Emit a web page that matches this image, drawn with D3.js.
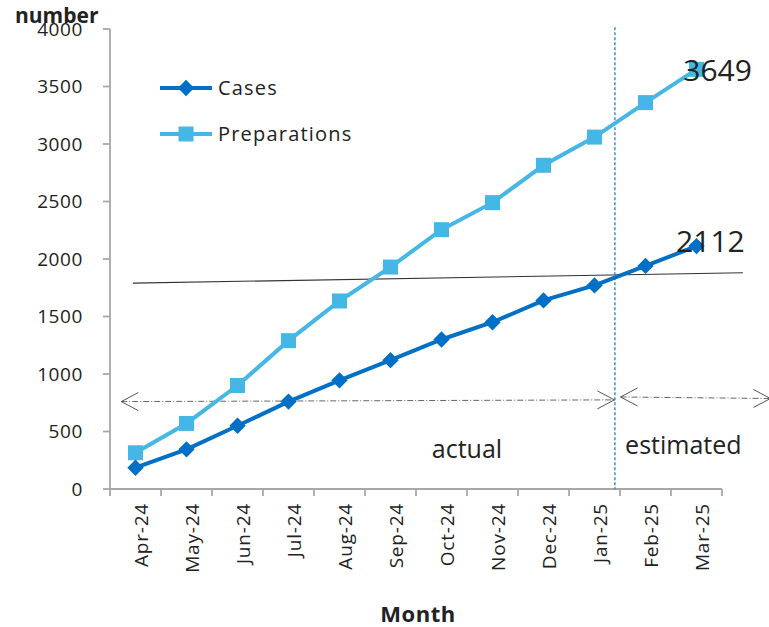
<!DOCTYPE html>
<html>
<head>
<meta charset="utf-8">
<script src="https://cdn.jsdelivr.net/npm/d3@7"></script>
<style>
    body { margin: 0; background: #fff; }
    text { font-family: "Open Sans", sans-serif; fill: #222; }
</style>
</head>
<body>
<div id="chart"></div>
<script>
// values
const months = ["Apr-24", "May-24", "Jun-24", "Jul-24", "Aug-24", "Sep-24",
                "Oct-24", "Nov-24", "Dec-24", "Jan-25", "Feb-25", "Mar-25"];
const cases = [185, 345, 550, 760, 945, 1120, 1300, 1450, 1640, 1770, 1940, 2112];
const preparations = [315, 570, 900, 1290, 1635, 1930, 2255, 2490, 2815, 3060, 3360, 3649];
const y_ticks = [0, 500, 1000, 1500, 2000, 2500, 3000, 3500, 4000];
const series_names = ["Cases", "Preparations"];
const end_labels = ["2112", "3649"];

const width = 769, height = 627;
const margin = {top: 29, right: 47, bottom: 138, left: 110};
const plot_w = width - margin.left - margin.right;
const plot_h = height - margin.top - margin.bottom;

const c_cases = "#0070c6";
const c_prep = "#45b7e6";
const axis_col = "#a8a8a8";

const svg = d3.select("#chart").append("svg")
    .attr("width", width)
    .attr("height", height);

const g = svg.append("g")
    .attr("transform", "translate(" + margin.left + "," + margin.top + ")");

const x = d3.scaleBand().domain(months).range([0, plot_w]).padding(0);
const y = d3.scaleLinear().domain([0, 4000]).range([plot_h, 0]);

// position in category units (0 = first month centre), for annotations
const xc = v => (v + 0.5) * x.step();

// y axis
g.append("line")
    .attr("x1", 0).attr("x2", 0)
    .attr("y1", y(4000)).attr("y2", y(0))
    .attr("stroke", axis_col).attr("stroke-width", 1.8);

g.selectAll(".ytick").data(y_ticks).enter()
    .append("line")
    .attr("x1", -7).attr("x2", 0)
    .attr("y1", d => y(d)).attr("y2", d => y(d))
    .attr("stroke", axis_col).attr("stroke-width", 1.8);

g.selectAll(".ylab").data(y_ticks).enter()
    .append("text")
    .attr("x", -27)
    .attr("y", d => y(d))
    .attr("dy", "0.36em")
    .attr("text-anchor", "end")
    .attr("font-size", 19)
    .attr("letter-spacing", 0.6)
    .text(d => d);

// x axis
g.append("line")
    .attr("x1", 0).attr("x2", plot_w)
    .attr("y1", plot_h).attr("y2", plot_h)
    .attr("stroke", axis_col).attr("stroke-width", 1.8);

g.selectAll(".xtick").data(d3.range(months.length + 1)).enter()
    .append("line")
    .attr("x1", d => d * x.step()).attr("x2", d => d * x.step())
    .attr("y1", plot_h).attr("y2", plot_h + 7)
    .attr("stroke", axis_col).attr("stroke-width", 1.8);

g.selectAll(".xlab").data(months).enter()
    .append("text")
    .attr("transform", d => "translate(" + (x(d) + x.bandwidth() / 2 + 6) + "," + (plot_h + 14) + ") rotate(-90)")
    .attr("dy", "0.36em")
    .attr("text-anchor", "end")
    .attr("font-size", 19)
    .attr("letter-spacing", 0.8)
    .text(d => d);

// axis titles
svg.append("text")
    .attr("x", 15).attr("y", 23)
    .attr("font-size", 21).attr("font-weight", "bold")
    .text("number");

svg.append("text")
    .attr("x", margin.left + plot_w / 2 + 2).attr("y", 622)
    .attr("text-anchor", "middle")
    .attr("font-size", 22).attr("font-weight", "bold")
    .attr("letter-spacing", 0.5)
    .text("Month");

// annotations: thin reference line, divider, period arrows
const ann = g.append("g");

ann.append("line")
    .attr("x1", xc(-0.05)).attr("y1", y(1790))
    .attr("x2", xc(11.91)).attr("y2", y(1880))
    .attr("stroke", "#333").attr("stroke-width", 1.1);

ann.append("line")
    .attr("x1", xc(9.4)).attr("x2", xc(9.4))
    .attr("y1", y(4015)).attr("y2", y(-5))
    .attr("stroke", "#3b8fdc").attr("stroke-width", 1.5)
    .attr("stroke-dasharray", "3,2");

function arrow(a, b, va, vb) {
    const x1 = xc(a), x2 = xc(b), y1 = y(va), y2 = y(vb);
    ann.append("line")
        .attr("x1", x1).attr("y1", y1).attr("x2", x2).attr("y2", y2)
        .attr("stroke", "#666").attr("stroke-width", 1)
        .attr("stroke-dasharray", "6,2,1,2");
    ann.append("path")
        .attr("d", "M" + (x1 + 17) + "," + (y1 - 9) + "L" + x1 + "," + y1 + "L" + (x1 + 17) + "," + (y1 + 9))
        .attr("fill", "none").attr("stroke", "#555").attr("stroke-width", 1);
    ann.append("path")
        .attr("d", "M" + (x2 - 17) + "," + (y2 - 9) + "L" + x2 + "," + y2 + "L" + (x2 - 17) + "," + (y2 + 9))
        .attr("fill", "none").attr("stroke", "#555").attr("stroke-width", 1);
}
arrow(-0.28, 9.39, 760, 775);
arrow(9.51, 12.45, 800, 787);

ann.append("text")
    .attr("x", xc(5.81)).attr("y", y(272))
    .attr("font-family", "Liberation Sans, Arial, sans-serif")
    .attr("font-size", 25).attr("fill", "#111")
    .text("actual");

ann.append("text")
    .attr("x", xc(9.6)).attr("y", y(302))
    .attr("font-family", "Liberation Sans, Arial, sans-serif")
    .attr("font-size", 25).attr("fill", "#111")
    .text("estimated");

// series
const line = d3.line()
    .x((d, i) => x(months[i]) + x.bandwidth() / 2)
    .y(d => y(d));

g.append("path")
    .attr("d", line(preparations))
    .attr("fill", "none").attr("stroke", c_prep).attr("stroke-width", 4);

g.append("path")
    .attr("d", line(cases))
    .attr("fill", "none").attr("stroke", c_cases).attr("stroke-width", 4);

g.selectAll(".sq").data(preparations).enter()
    .append("rect")
    .attr("x", (d, i) => x(months[i]) + x.bandwidth() / 2 - 7.5)
    .attr("y", d => y(d) - 7.5)
    .attr("width", 15).attr("height", 15)
    .attr("fill", c_prep);

const diamond = d3.symbol().type(d3.symbolDiamond2).size(170);
g.selectAll(".dm").data(cases).enter()
    .append("path")
    .attr("d", diamond)
    .attr("transform", (d, i) => "translate(" + (x(months[i]) + x.bandwidth() / 2) + "," + y(d) + ")")
    .attr("fill", c_cases);

// end value labels
g.append("text")
    .attr("x", xc(10.6)).attr("y", y(2060))
    .attr("font-family", "Liberation Sans, Arial, sans-serif")
    .attr("font-size", 30).attr("fill", "#000")
    .text(end_labels[0]);

g.append("text")
    .attr("x", xc(10.74)).attr("y", y(3545))
    .attr("font-family", "Liberation Sans, Arial, sans-serif")
    .attr("font-size", 30).attr("fill", "#000")
    .text(end_labels[1]);

// legend
const legend = svg.append("g").attr("transform", "translate(160,88)");
const leg_cols = [c_cases, c_prep];
series_names.forEach(function (name, i) {
    const row = legend.append("g").attr("transform", "translate(0," + (i * 46) + ")");
    row.append("line")
        .attr("x1", 0).attr("x2", 52).attr("y1", 0).attr("y2", 0)
        .attr("stroke", leg_cols[i]).attr("stroke-width", 4);
    if (i === 0) {
        row.append("path").attr("d", diamond)
            .attr("transform", "translate(26,0)").attr("fill", leg_cols[i]);
    } else {
        row.append("rect").attr("x", 18.5).attr("y", -7.5)
            .attr("width", 15).attr("height", 15).attr("fill", leg_cols[i]);
    }
    row.append("text")
        .attr("x", 58).attr("y", 0).attr("dy", "0.36em")
        .attr("font-size", 20).attr("letter-spacing", 1.2)
        .text(name);
});
</script>
</body>
</html>
